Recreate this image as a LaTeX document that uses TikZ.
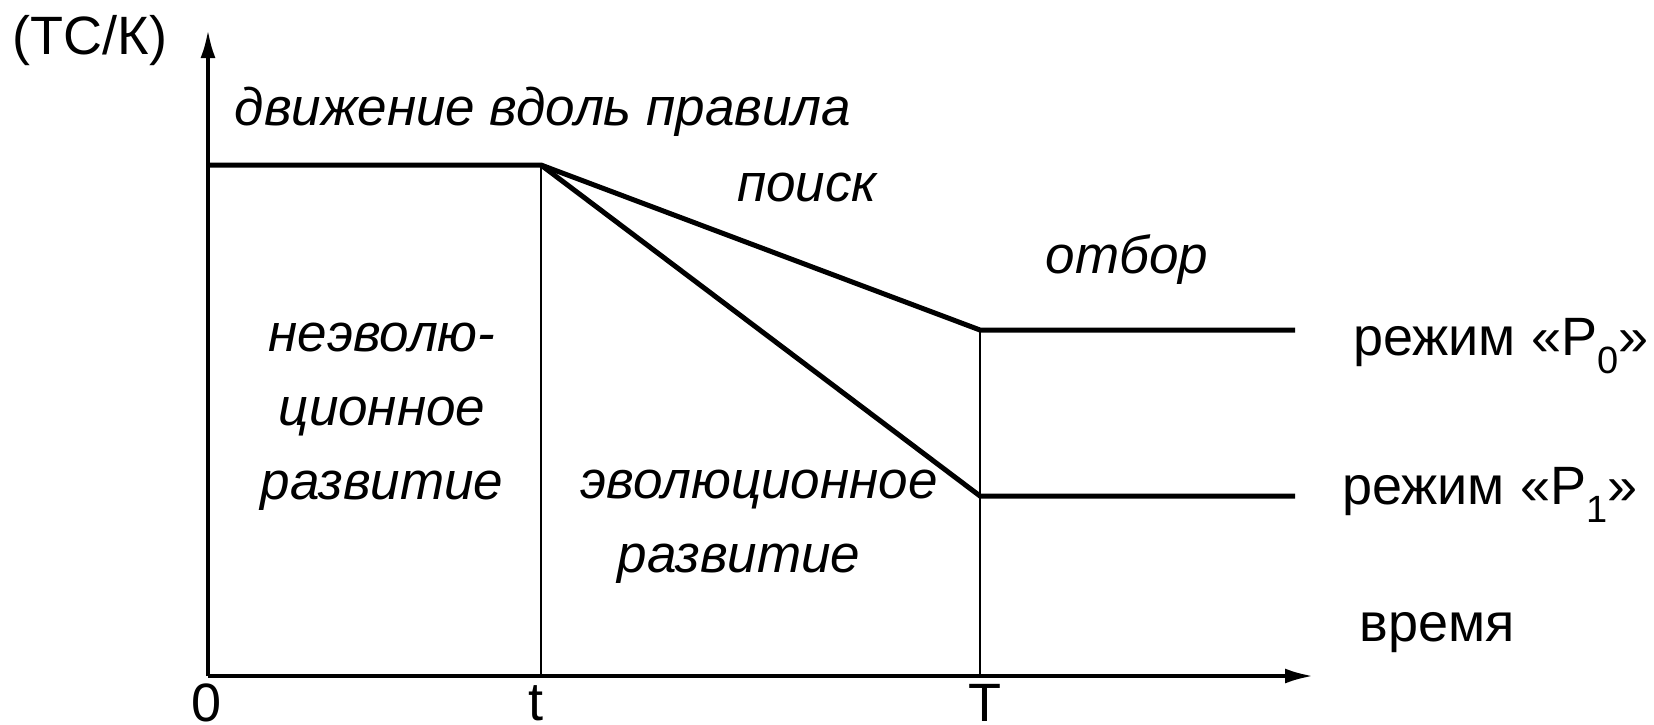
\documentclass[tikz,border=0pt]{standalone}
\usepackage{fontspec}
\setmainfont{Liberation Sans}
\usetikzlibrary{arrows.meta}
\begin{document}
\begin{tikzpicture}[x=1pt,y=-1pt,
  lbl/.style={inner sep=0pt,font=\fontsize{54}{64}\selectfont},
  ilbl/.style={inner sep=0pt,font=\fontsize{53}{74}\selectfont\itshape,align=center},
  axis/.style={line width=3.5pt,-{Latex[length=28pt,width=15pt]}},
  curve/.style={line width=5pt,line join=miter},
  guide/.style={line width=1.8pt}]
\useasboundingbox (0,0) rectangle (1654,724);
\coordinate (O) at (208,676);
\coordinate (ytop) at (208,30);
\coordinate (xend) at (1313,676);
\coordinate (A) at (208,165);
\coordinate (B) at (541,165);
\coordinate (C0) at (980,330);
\coordinate (C1) at (980,496);
\coordinate (D0) at (1295,330);
\coordinate (D1) at (1295,496);
\coordinate (tb) at (541,676);
\coordinate (Tb) at (980,676);
\draw[guide] (B) -- (tb);
\draw[guide] (C0) -- (Tb);
\draw[curve] (A) -- (B) -- (C0) -- (D0);
\draw[curve] (B) -- (C1) -- (D1);
\draw[axis] (O) -- (ytop);
\draw[axis] (O) -- (xend);
\node[lbl] (ylab) at (90,41) {(ТС/К)};
\node[lbl] (zero) at (207,703) {0};
\node[lbl] (tlab) at (536,703) {t};
\node[lbl] (Tlab) at (985,703) {Т};
\node[lbl] (time) at (1437,633) {время};
\node[lbl,anchor=west] (p0) at (1353,346) {режим «P\raisebox{-0.33em}{\fontsize{38}{38}\selectfont 0}»};
\node[lbl,anchor=west] (p1) at (1342,495) {режим «P\raisebox{-0.33em}{\fontsize{38}{38}\selectfont 1}»};
\node[ilbl] (move) at (543,112) {движение вдоль правила};
\node[ilbl] (search) at (807,187) {поиск};
\node[ilbl] (select) at (1127,260) {отбор};
\node[ilbl] (nonevo) at (382,417) {неэволю-\\ционное\\развитие};
\node[ilbl] (evo1) at (759,490) {эволюционное};
\node[ilbl] (evo2) at (739,564) {развитие};
\end{tikzpicture}
\end{document}
